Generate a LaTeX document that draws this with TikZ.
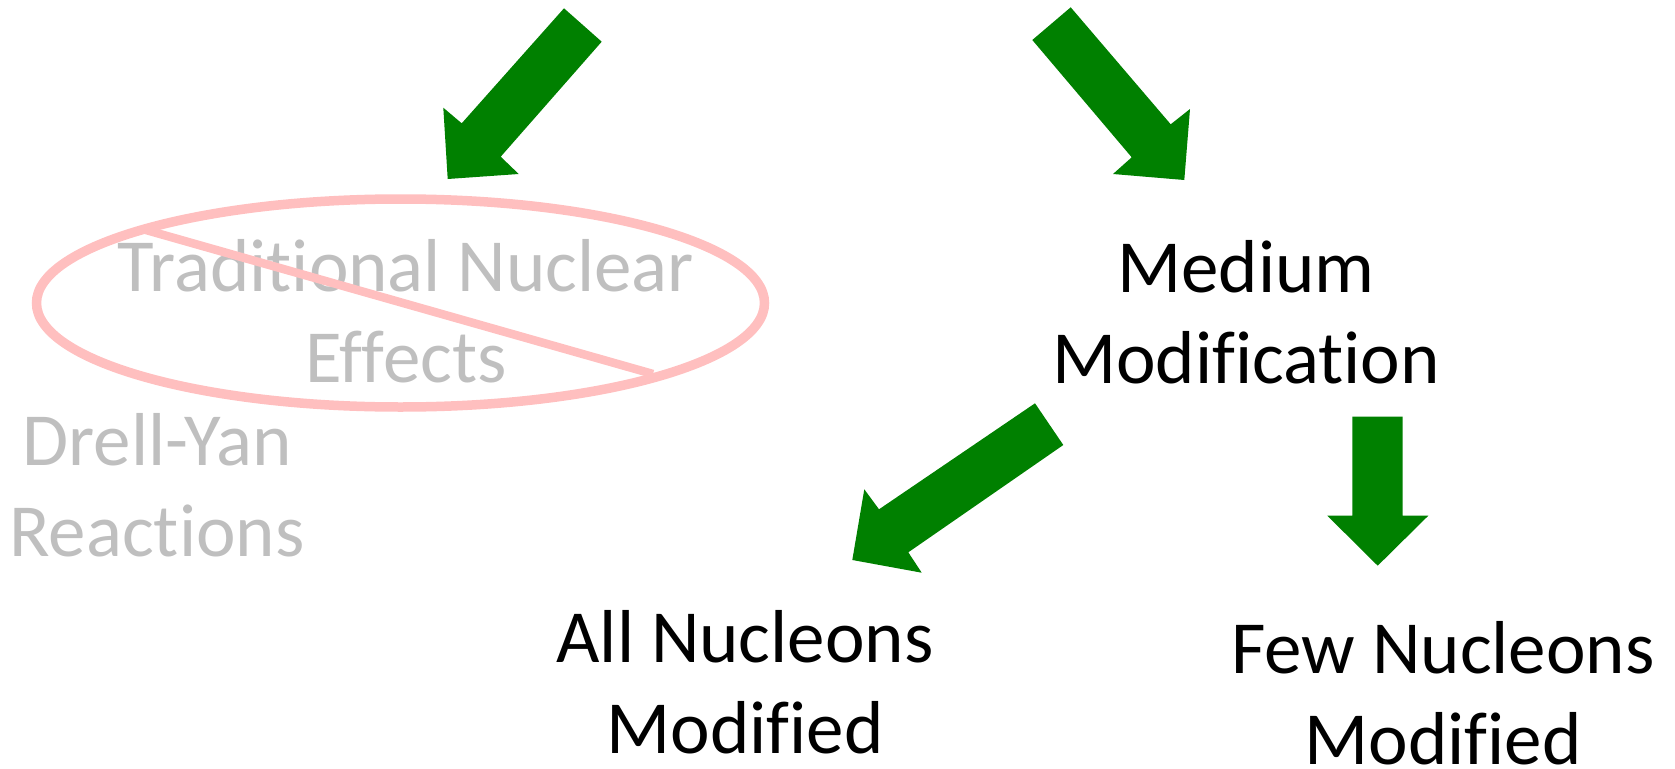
\documentclass[tikz,border=0pt]{standalone}
\usepackage{fontspec}
\setmainfont{Carlito}[Ligatures={NoCommon,NoRare,NoContextual}]
\definecolor{arrowgreen}{RGB}{0,128,0}
\definecolor{fadegray}{RGB}{191,191,191}
\definecolor{crosspink}{RGB}{255,191,191}
\begin{document}
\begin{tikzpicture}[x=1pt,y=-1pt,
  blockarrow/.style={fill=arrowgreen,draw=none},
  lbl/.style={font=\fontsize{75}{91}\selectfont, align=center, anchor=base, inner sep=0pt},
  faded/.style={lbl, text=fadegray},
  cross/.style={draw=crosspink, line width=9.5pt}]
\useasboundingbox (0,0) rectangle (1675,768);

% block arrows
\fill[blockarrow] (564,8.3) -- (601.7,41.7) -- (500.7,156.7) -- (518.7,174) -- (447.7,179) -- (443.3,107.7) -- (461.7,123.3) -- cycle;
\fill[blockarrow] (1032.3,40) -- (1070.7,7.3) -- (1170.7,124.3) -- (1190,109) -- (1184.3,180) -- (1113,174) -- (1131.7,157.3) -- cycle;
\fill[blockarrow] (1035,403.3) -- (1063.3,445) -- (908.3,552.3) -- (921.7,572.7) -- (852.3,560) -- (864.3,489.3) -- (879,509.3) -- cycle;
\fill[blockarrow] (1352.3,416.7) -- (1402.7,416.7) -- (1402.7,515.7) -- (1428.3,515.7) -- (1377.7,565.7) -- (1327.3,515.7) -- (1352.3,515.7) -- cycle;

% labels (base anchor = baseline of last line)
\node[faded] (trad) at (406,382.7) {Traditional Nuclear\\Effects};
\node[faded] (dy) at (157,556) {Drell-Yan\\Reactions};
\node[lbl] (medium) at (1246,383.3) {Medium\\Modification};
\node[lbl] (all) at (745,753) {All Nucleons\\Modified};
\node[lbl] (few) at (1443,764.7) {Few Nucleons\\Modified};

% crossed-out ellipse
\draw[cross] (400.5,303) ellipse [x radius=364, y radius=104];
\coordinate (slashA) at (146,230);
\coordinate (slashB) at (653,374);
\draw[cross, line width=8.5pt] (slashA) -- (slashB);
\end{tikzpicture}
\end{document}
